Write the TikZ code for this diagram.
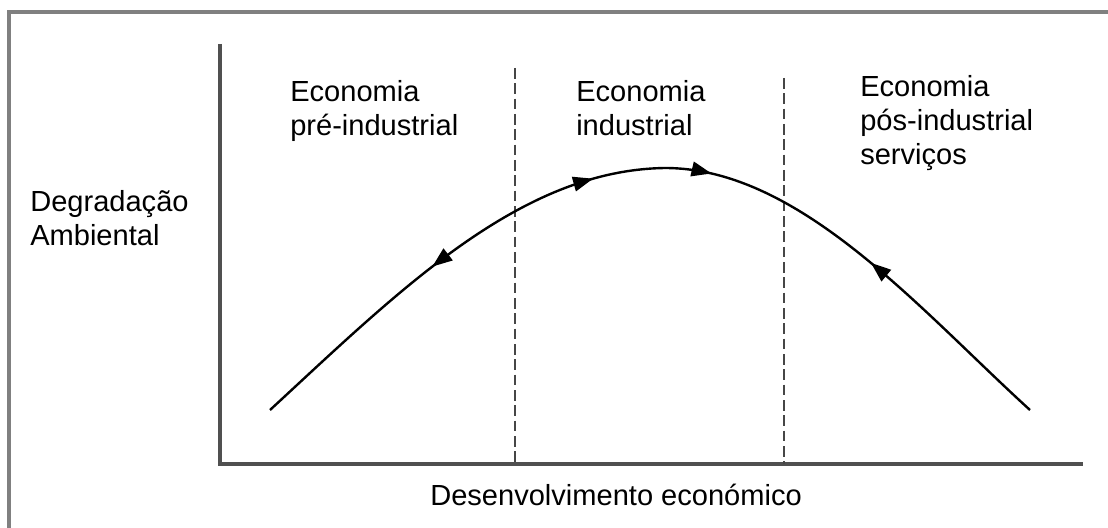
\documentclass[tikz,border=0pt]{standalone}
\usepackage{fontspec}
\setmainfont{Liberation Sans}
\usetikzlibrary{decorations.markings,arrows.meta}

\tikzset{
    frameline/.style={draw={rgb,255:red,128;green,128;blue,128}, line width=2.4pt},
    axisline/.style={draw={rgb,255:red,80;green,80;blue,80}, line width=2.4pt},
    zoneline/.style={draw={rgb,255:red,70;green,70;blue,70}, line width=1.5pt, dash pattern=on 8pt off 3.5pt},
    lbl/.style={anchor=north west, inner sep=0pt, align=left, font=\fontsize{21.8}{25.5}\selectfont},
    curvetip/.tip={Triangle[length=15pt,width=11pt]},
}

\begin{document}
\begin{tikzpicture}[x=0.75pt,y=0.75pt,yscale=-1,xscale=1]
    \useasboundingbox (0,0) rectangle (1108,528);
    %Frame
    \draw [frameline]  (9,528) -- (9,12) -- (1108,12) ;
    %Axes
    \coordinate (ytop) at (220,44);
    \coordinate (origin) at (220,464);
    \coordinate (xend) at (1083,464);
    \draw [axisline]  (ytop) -- (origin) -- (xend) ;
    %Dashed Lines
    \coordinate (zoneA) at (515,68);
    \coordinate (zoneB) at (784,78);
    \draw [zoneline]  (zoneA) -- (zoneA |- origin) ;
    \draw [zoneline]  (zoneB) -- (zoneB |- origin) ;
    %Curve
    \coordinate (cstart) at (270,410);
    \coordinate (cpeak) at (665,168);
    \coordinate (cend) at (1030,410);
    \draw [line width=1.8pt, postaction={decorate}, decoration={markings,
        mark=at position 0.235 with {\arrowreversed{curvetip}},
        mark=at position 0.435 with {\arrow{curvetip}},
        mark=at position 0.565 with {\arrow{curvetip}},
        mark=at position 0.765 with {\arrowreversed{curvetip}}}]
        (cstart) .. controls (400,290) and (520,170) .. (cpeak)
        .. controls (800,168) and (920,310) .. (cend) ;

    % Text Node
    \node [lbl] (preind) at (290,80) {Economia\\pré-industrial};
    % Text Node
    \node [lbl] (ind) at (576,80) {Economia\\industrial};
    % Text Node
    \node [lbl] (posind) at (860,75) {Economia\\pós-industrial\\serviços};
    % Text Node
    \node [lbl] (degrad) at (30,190) {Degradação\\Ambiental};
    % Text Node
    \node [lbl] (desenv) at (430,484) {Desenvolvimento económico};
\end{tikzpicture}
\end{document}
